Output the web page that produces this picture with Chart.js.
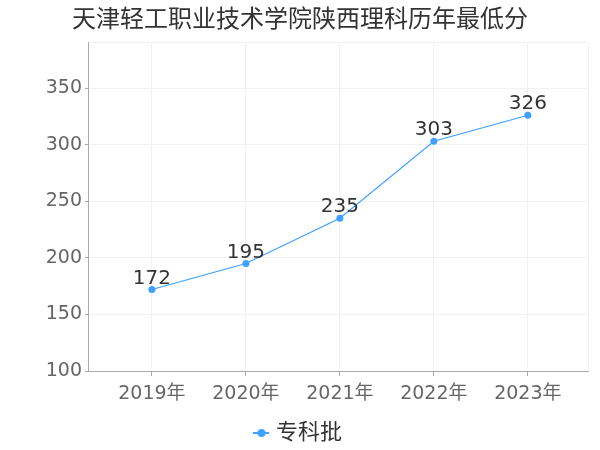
<!DOCTYPE html>
<html>
<head>
<meta charset="utf-8">
<script src="https://cdn.jsdelivr.net/npm/chart.js@4/dist/chart.umd.min.js"></script>
<style>
  body { margin: 0; background: #fff; }
  #wrap { width: 600px; height: 450px; }
</style>
</head>
<body>
<div id="wrap"><canvas id="line-chartcanvas"></canvas></div>
<script>
// data
var years = ['2019年', '2020年', '2021年', '2022年', '2023年'];
var scores = [172, 195, 235, 303, 326];
var seriesName = '专科批';
var titleText = '天津轻工职业技术学院陕西理科历年最低分';
var yMin = 100, yMax = 390, yStep = 50;

var FONT = '"DejaVu Sans", "Noto Sans CJK SC", sans-serif';
var LINE = '#3fa0ff';

// legend icon: short line with a dot, like the original
function legendIcon() {
  var c = document.createElement('canvas');
  c.width = 16; c.height = 10;
  var g = c.getContext('2d');
  g.strokeStyle = LINE; g.lineWidth = 2;
  g.beginPath(); g.moveTo(0, 5); g.lineTo(16, 5); g.stroke();
  g.fillStyle = LINE;
  g.beginPath(); g.arc(8, 5, 4, 0, Math.PI * 2); g.fill();
  return c;
}

var valueLabels = {
  id: 'valueLabels',
  afterDatasetsDraw: function(chart) {
    var ctx = chart.ctx;
    var meta = chart.getDatasetMeta(0);
    ctx.save();
    ctx.font = '20px ' + FONT;
    ctx.fillStyle = '#333';
    ctx.textAlign = 'center';
    ctx.textBaseline = 'bottom';
    meta.data.forEach(function(pt, i) {
      ctx.fillText(String(scores[i]), pt.x, pt.y - 1);
    });
    ctx.restore();
  }
};

var points = scores.map(function(v, i) { return { x: i, y: v }; });
var padL = 0.68, padR = 0.64;

var ctx = document.getElementById('line-chartcanvas');
var LineGraph = new Chart(ctx, {
  type: 'line',
  data: {
    datasets: [{
      label: seriesName,
      data: points,
      borderColor: LINE,
      backgroundColor: LINE,
      borderWidth: 1.2,
      pointRadius: 3.5,
      pointBorderWidth: 0,
      pointBackgroundColor: LINE,
      pointStyle: 'circle',
      fill: false,
      tension: 0
    }]
  },
  options: {
    responsive: true,
    maintainAspectRatio: false,
    animation: false,
    layout: { padding: { left: 12, right: 12, top: 0, bottom: -4 } },
    plugins: {
      title: {
        display: true,
        text: titleText,
        color: '#333',
        font: { family: FONT, size: 24, weight: 'normal' },
        padding: { top: 6, bottom: 8 }
      },
      legend: {
        position: 'bottom',
        labels: {
          color: '#333',
          font: { family: FONT, size: 22 },
          usePointStyle: true,
          pointStyleWidth: 7,
          padding: 1,
          generateLabels: function(chart) {
            return [{
              text: seriesName,
              pointStyle: legendIcon(),
              fillStyle: LINE,
              strokeStyle: LINE,
              lineWidth: 0,
              datasetIndex: 0,
              fontColor: '#333'
            }];
          }
        }
      },
      tooltip: { enabled: false }
    },
    scales: {
      x: {
        type: 'linear',
        min: -padL,
        max: years.length - 1 + padR,
        afterBuildTicks: function(scale) {
          var t = [{ value: -padL }];
          years.forEach(function(y, i) { t.push({ value: i }); });
          t.push({ value: years.length - 1 + padR });
          scale.ticks = t;
        },
        afterFit: function(scale) { scale.height = 50; },
        ticks: {
          autoSkip: false,
          maxRotation: 0,
          color: '#666',
          padding: 7,
          font: { family: FONT, size: 19 },
          callback: function(v) {
            return Number.isInteger(v) ? years[v] : '';
          }
        },
        grid: {
          color: '#f2f2f2',
          tickLength: 5,
          tickColor: function(c) {
            return Number.isInteger(c.tick && c.tick.value) ? '#aaa' : 'rgba(0,0,0,0)';
          }
        },
        border: { color: '#aaa', width: 1 }
      },
      y: {
        min: yMin,
        max: yMax,
        afterFit: function(scale) { scale.width = 76; },
        ticks: {
          stepSize: yStep,
          color: '#666',
          padding: 3,
          font: { family: FONT, size: 19 },
          callback: function(v) {
            return v % yStep === 0 ? String(v) : '';
          }
        },
        grid: {
          color: '#f2f2f2',
          tickLength: 3,
          tickColor: function(c) {
            return c.tick && c.tick.value % yStep === 0 ? '#aaa' : 'rgba(0,0,0,0)';
          }
        },
        border: { color: '#aaa', width: 1 }
      }
    }
  },
  plugins: [valueLabels]
});
</script>
</body>
</html>
